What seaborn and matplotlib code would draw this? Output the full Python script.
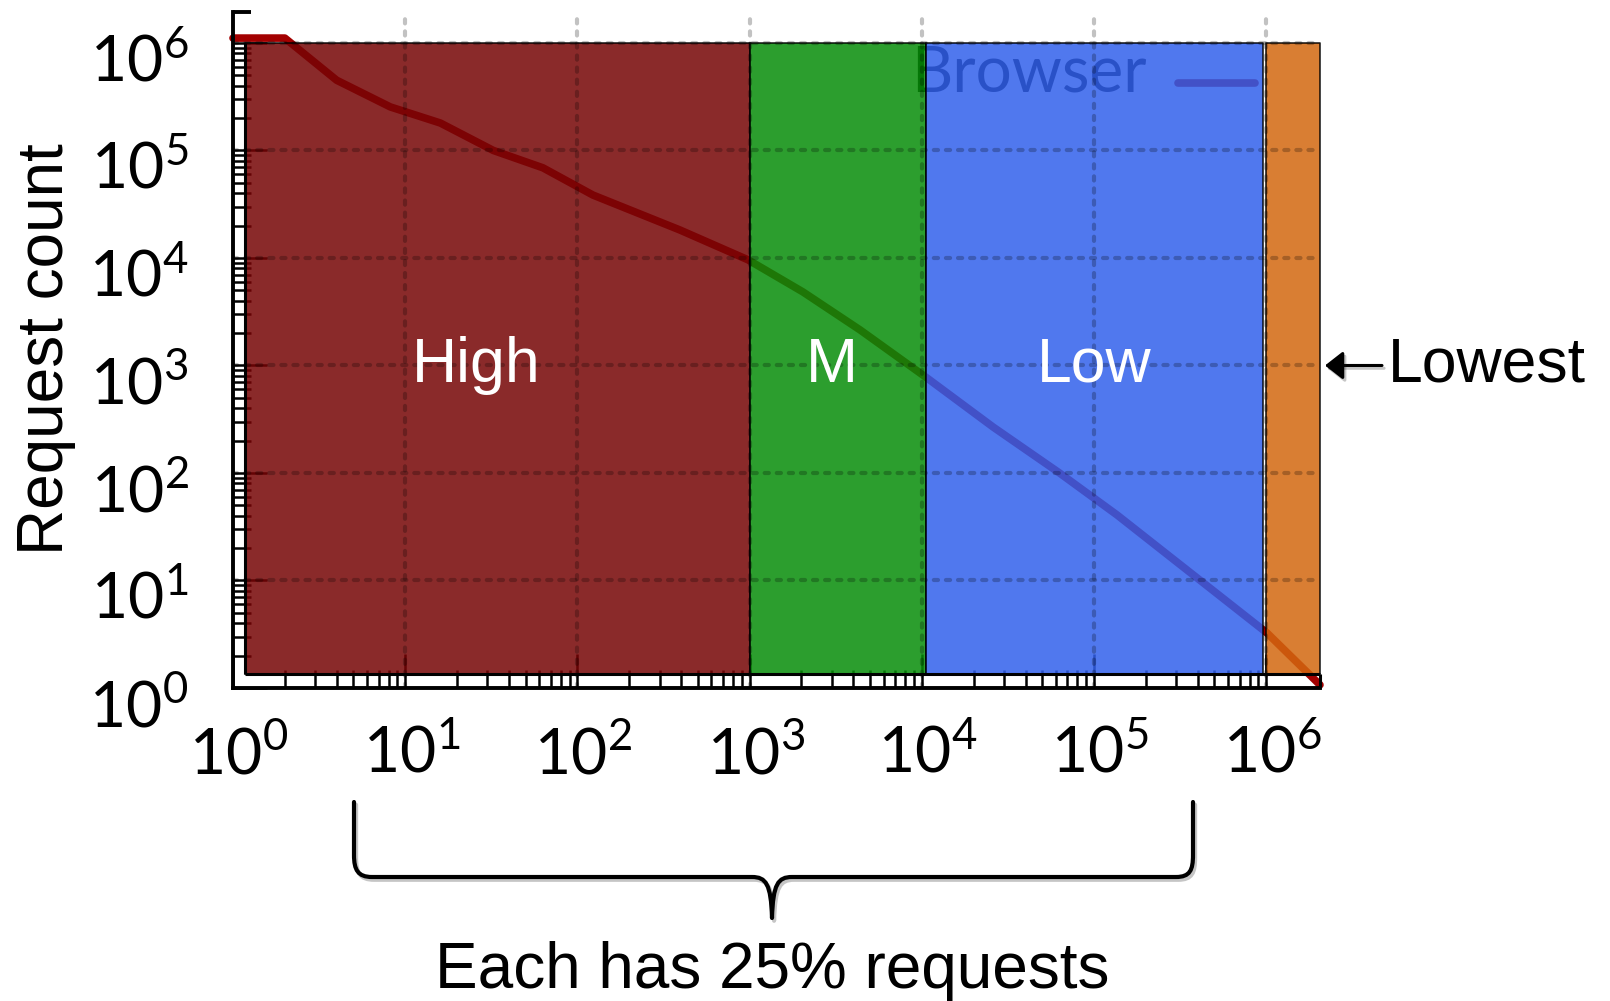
import numpy as np
import pandas as pd
import matplotlib
matplotlib.use("Agg")
import matplotlib.pyplot as plt
import matplotlib.transforms as mtransforms
import matplotlib.patheffects as pe
from matplotlib.lines import Line2D
from matplotlib.path import Path
from matplotlib.patches import PathPatch
from matplotlib.ticker import FixedLocator, FuncFormatter, NullFormatter
import seaborn as sns

# Browser requests: object rank vs. request count (log-log)
rank = [1, 2, 4.0, 8.2, 16, 32.5, 63, 123, 394, 980, 2040, 4380,
        10700, 25900, 63000, 136000, 1010000, 2050000]
request_count = [1.11e6, 1.11e6, 4.5e5, 2.54e5, 1.8e5, 1.0e5, 6.9e4, 3.85e4,
                 1.82e4, 9.6e3, 4830, 2140, 766, 268, 100, 40.7, 3.25, 1.07]

# Popularity tiers, each one holding a quarter of all requests
tier_names = ["High", "M", "Low", "Lowest"]
tier_start = [1, 1.0e3, 1.06e4, 1.0e6]
tier_end = [1.0e3, 1.06e4, 9.6e5, 2.05e6]
tier_top = 1.0e6
tier_colors = ["#760405", "#078D09", "#3160EB", "#D3670F"]
tier_label_x = [26, 3.0e3, 1.0e5]
tier_label_y = 1.0e3

decades = list(range(0, 7))
x_max = 10 ** 6.312
y_max = 10 ** 6.288

line_color = "#A30000"

sns.set_theme(style="white")
plt.rcParams["font.family"] = ["Lato", "DejaVu Sans"]
plt.rcParams["mathtext.fontset"] = "custom"
plt.rcParams["mathtext.rm"] = "Lato"
plt.rcParams["axes.unicode_minus"] = False
for key in ("text.color", "axes.labelcolor", "xtick.color", "ytick.color",
            "xtick.labelcolor", "ytick.labelcolor"):
    plt.rcParams[key] = "black"

W, H = 1610, 1001
fig = plt.figure(figsize=(W / 100, H / 100), dpi=100)
ax = fig.add_axes([233 / W, (H - 688) / H, 1087 / W, 676 / H])
ax.set_xscale("log")
ax.set_yscale("log")
ax.set_xlim(1, x_max)
ax.set_ylim(1, y_max)

# the curve sits beneath the translucent tier bands
df = pd.DataFrame({"rank": rank, "requests": request_count})
sns.lineplot(data=df, x="rank", y="requests", ax=ax, color=line_color,
             lw=5.5, label="Browser", zorder=2, clip_on=False,
             solid_capstyle="round", solid_joinstyle="round")

# inner frame line offsets (axes fraction)
inner_fx = 12 / 1087
inner_fy = 14 / 676
x_in = 10 ** (inner_fx * np.log10(x_max))
y_in = 10 ** (inner_fy * np.log10(y_max))
top_fy = np.log10(tier_top) / np.log10(y_max)

for x0, x1, c in zip(tier_start, tier_end, tier_colors):
    ax.fill_between([max(x0, x_in), x1], y_in, tier_top, facecolor=c,
                    alpha=0.85, edgecolor="black", lw=1.2, zorder=3)

for name, lx in zip(tier_names[:3], tier_label_x):
    ax.text(lx, tier_label_y, name, color="white", fontsize=45,
            family="Liberation Sans", ha="center", va="center", zorder=6)

# ticks
major = [10.0 ** d for d in decades]
minor = [k * 10.0 ** d for d in decades[:-1] for k in range(2, 10)]
fmt = FuncFormatter(lambda v, pos: r"$\mathregular{10^{%d}}$" % round(np.log10(v)))
for axis in (ax.xaxis, ax.yaxis):
    axis.set_major_locator(FixedLocator(major))
    axis.set_minor_locator(FixedLocator(minor))
    axis.set_major_formatter(fmt)
    axis.set_minor_formatter(NullFormatter())
ax.set_axisbelow(True)
ax.tick_params(which="both", direction="in", bottom=True, left=True,
               top=False, right=False, color="black", width=1.8,
               labelcolor="black")
ax.tick_params(which="major", length=24.5, labelsize=45, labelfontfamily="Lato")
ax.tick_params(which="minor", length=13)
ax.tick_params(axis="x", which="major", pad=26)
ax.tick_params(axis="y", which="major", pad=32)
ax.grid(False)

# dotted decade grid drawn over the bands as a translucent dark overlay
grid_kw = dict(color="black", alpha=0.24, lw=3.0, linestyle=(0, (1.0, 1.9)),
               dash_capstyle="round", zorder=3.5)
for v in major[1:]:
    ax.axvline(v, **grid_kw)
    ax.axhline(v, **grid_kw)

for side in ("top", "right"):
    ax.spines[side].set_visible(False)
for side in ("left", "bottom"):
    ax.spines[side].set_linewidth(2.8)
    ax.spines[side].set_color("black")

# inner frame lines and caps
frame_kw = dict(transform=ax.transAxes, color="black", lw=2.2, zorder=5,
                clip_on=False, solid_capstyle="butt")
ax.add_line(Line2D([inner_fx, inner_fx], [inner_fy, top_fy], **frame_kw))
ax.add_line(Line2D([inner_fx, 1.0], [inner_fy, inner_fy], **frame_kw))
ax.add_line(Line2D([1.0, 1.0], [0.0, inner_fy], **frame_kw))
ax.add_line(Line2D([0.0, 0.017], [1.0, 1.0], **dict(frame_kw, lw=2.8)))

ax.set_xlabel("")
ax.set_ylabel("")
fig.text(46 / W, 1 - 349 / H, "Request count", rotation=90, ha="center",
         va="center", fontsize=46, family="Liberation Sans")

leg = ax.legend(loc="upper right", bbox_to_anchor=(0.94, 0.952),
                frameon=False, markerfirst=False, handlelength=1.2,
                handletextpad=0.5, borderpad=0, borderaxespad=0,
                prop={"family": "Lato", "size": 46})
leg.set_zorder(2.2)
for text in leg.get_texts():
    text.set_color("black")

shadow = [pe.SimpleLineShadow(offset=(1.5, -2), alpha=0.25), pe.Normal()]

ax.annotate("Lowest", xy=(1.0, tier_label_y), xycoords=("axes fraction", "data"),
            xytext=(49, 0), textcoords="offset points", ha="left", va="center",
            fontsize=45, family="Liberation Sans", annotation_clip=False,
            color="black",
            arrowprops=dict(arrowstyle="-|>,head_length=0.55,head_width=0.43",
                            lw=2.2, color="black", shrinkA=2, shrinkB=3.6,
                            mutation_scale=20, path_effects=shadow))

# curly brace spanning the tiers, in figure pixels
to_fig = mtransforms.Affine2D().scale(1 / W, -1 / H).translate(0, 1) + fig.transFigure
verts = [(354, 802), (354, 855), (354, 870), (358, 877), (372, 877),
         (752, 877), (766, 877), (771, 884), (772, 918),
         (773, 884), (778, 877), (792, 877),
         (1176, 877), (1190, 877), (1193, 870), (1193, 855), (1193, 802)]
codes = [Path.MOVETO, Path.LINETO, Path.CURVE4, Path.CURVE4, Path.CURVE4,
         Path.LINETO, Path.CURVE4, Path.CURVE4, Path.CURVE4,
         Path.CURVE4, Path.CURVE4, Path.CURVE4,
         Path.LINETO, Path.CURVE4, Path.CURVE4, Path.CURVE4, Path.LINETO]
brace = PathPatch(Path(verts, codes), transform=to_fig, fill=False,
                  edgecolor="black", lw=3.0, joinstyle="round",
                  capstyle="round", path_effects=shadow)
fig.add_artist(brace)
fig.text(772 / W, 13 / H, "Each has 25% requests", ha="center", va="baseline",
         fontsize=46, family="Liberation Sans", color="black")

# y tick labels sit slightly below their ticks, x tick labels a touch right;
# the legend line sits low against its text
fig.canvas.draw()
y_shift = mtransforms.ScaledTranslation(0, -0.14, fig.dpi_scale_trans)
for t in ax.yaxis.get_major_ticks():
    t.label1.set_transform(t.label1.get_transform() + y_shift)
x_shift = mtransforms.ScaledTranslation(0.06, 0, fig.dpi_scale_trans)
for t in ax.xaxis.get_major_ticks():
    t.label1.set_transform(t.label1.get_transform() + x_shift)
handle_shift = mtransforms.ScaledTranslation(0, -0.14, fig.dpi_scale_trans)
for h in leg.get_lines():
    h.set_transform(h.get_transform() + handle_shift)

fig.savefig("out.png", dpi=100)
